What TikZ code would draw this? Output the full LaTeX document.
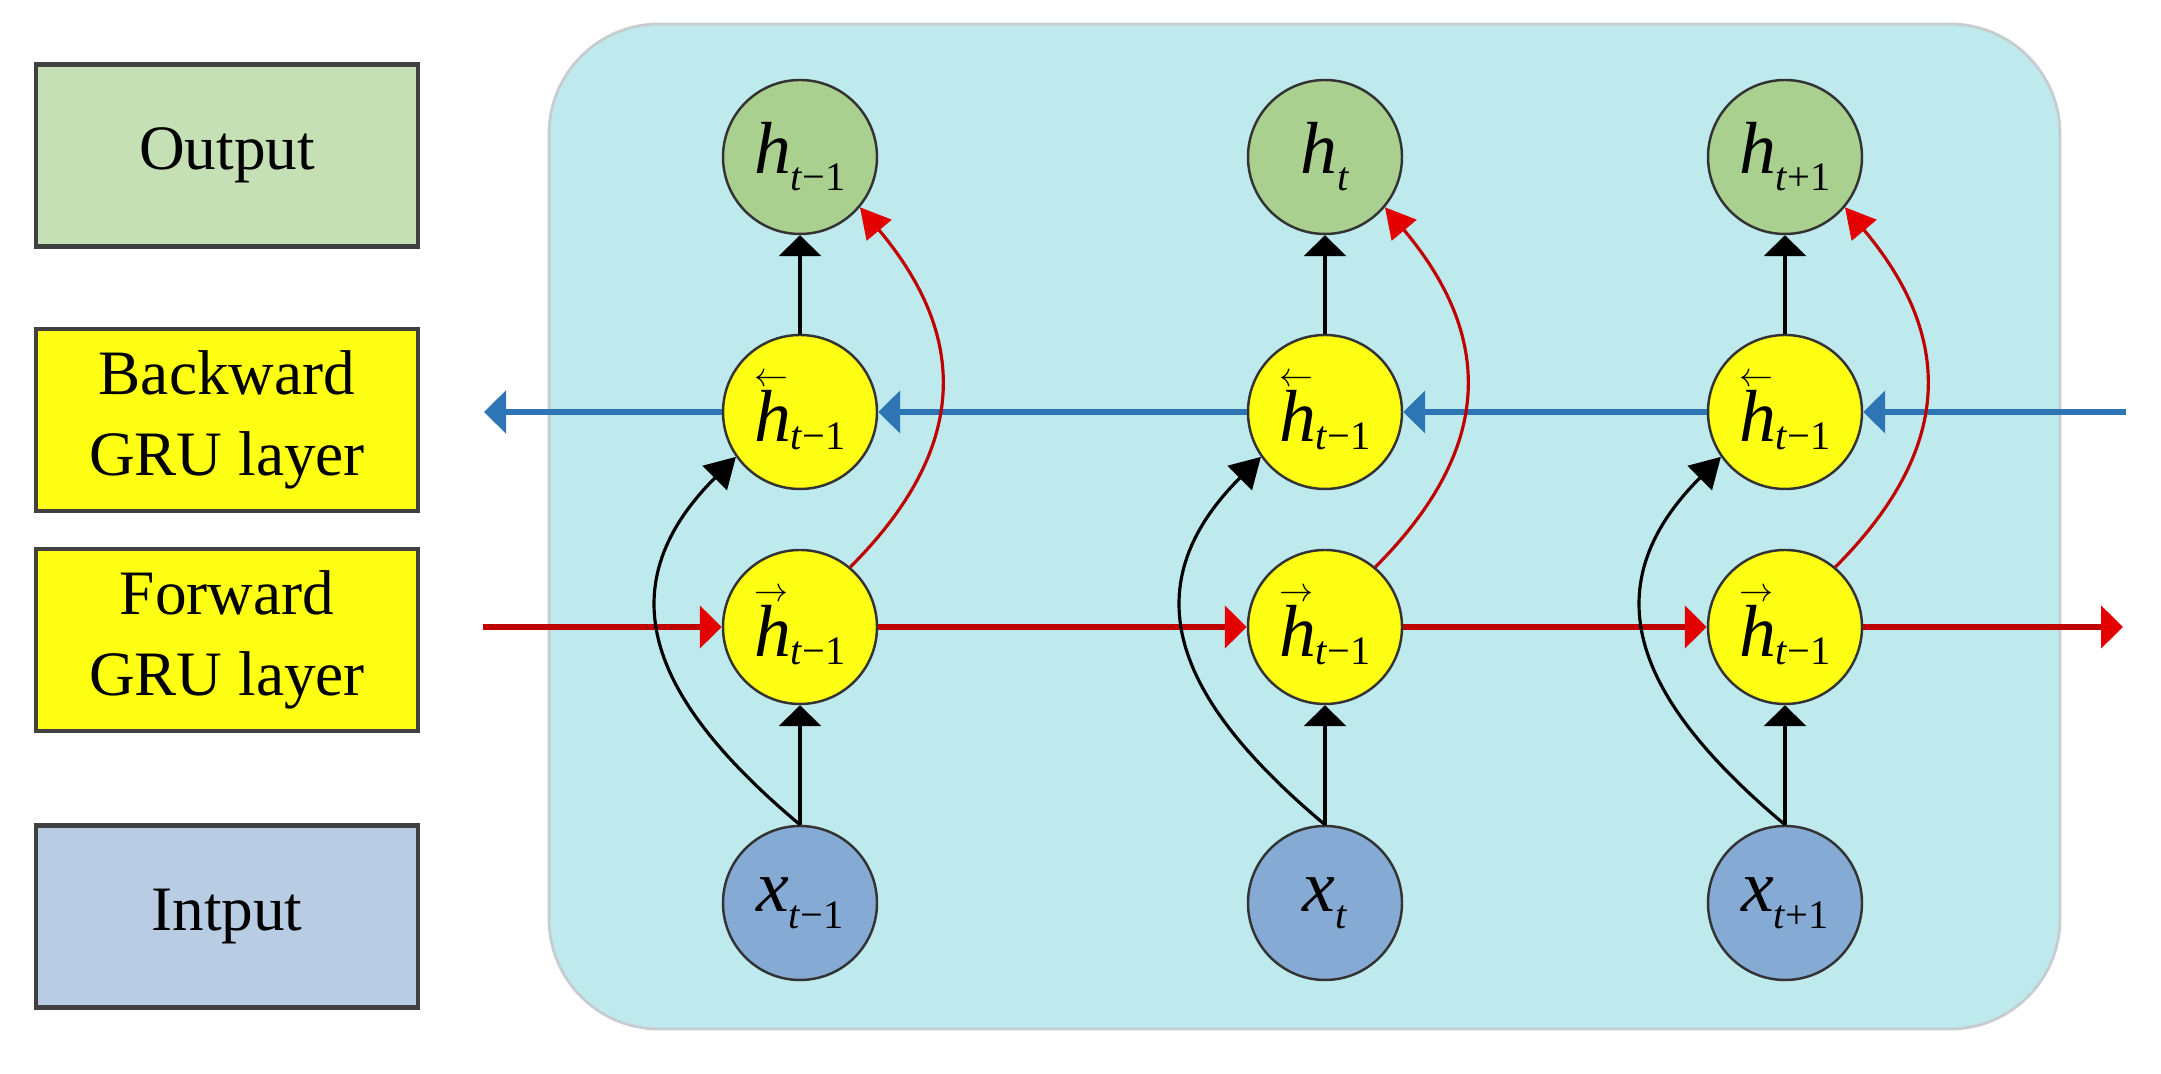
\documentclass[tikz,border=0pt]{standalone}
\usepackage{graphicx}
\usepackage{fontspec}
\setmainfont{Liberation Serif}
\usetikzlibrary{arrows.meta}
\definecolor{bgc}{RGB}{190,233,237}
\definecolor{bgline}{RGB}{198,204,208}
\definecolor{outbox}{RGB}{197,224,180}
\definecolor{outnode}{RGB}{169,208,142}
\definecolor{yel}{RGB}{255,255,20}
\definecolor{inbox}{RGB}{184,204,228}
\definecolor{innode}{RGB}{133,171,212}
\definecolor{redl}{RGB}{192,0,0}
\definecolor{redtip}{RGB}{228,0,0}
\definecolor{bluel}{RGB}{46,117,182}
\newcommand{\subt}[2]{\raisebox{#1}{\fontsize{11.5}{12}\selectfont #2}}
\newcommand{\vecarr}[1]{\makebox[0pt][l]{\raisebox{15.5pt}{\resizebox{0.34cm}{!}{$#1$}}}}
\newcommand{\hbk}{\vecarr{\leftarrow}\textit{h}\subt{-0.25ex}{\textit{t}−1}}
\newcommand{\hfw}{\vecarr{\rightarrow}\textit{h}\subt{-0.25ex}{\textit{t}−1}}
\tikzset{
  legend/.style={draw=black!75, line width=1.3pt, minimum width=3.82cm, minimum height=1.82cm,
    align=center, inner sep=0pt, font=\fontsize{18}{23}\selectfont},
  unit/.style={circle, draw=black!80, line width=0.7pt, minimum size=1.54cm, inner sep=0pt,
    font=\fontsize{21}{21}\selectfont},
  blk/.style={draw=black, line width=1.2pt, -{Triangle[width=0.42cm,length=0.21cm]}},
  blkc/.style={draw=black, line width=0.9pt, -{Triangle[width=0.34cm,length=0.3cm]}},
  redc/.style={draw=redl, line width=0.9pt, -{Triangle[width=0.32cm,length=0.3cm,color=redtip]}},
  redh/.style={draw=redl, line width=1.5pt, -{Triangle[width=0.42cm,length=0.22cm,color=redtip]}},
  blueh/.style={draw=bluel, line width=1.5pt, -{Triangle[width=0.42cm,length=0.22cm]}}
}
\begin{document}
\begin{tikzpicture}
\useasboundingbox (0,0) rectangle (21.61,10.74);
\draw[fill=bgc, draw=bgline, line width=0.8pt, rounded corners=1.1cm] (5.49,0.45) rectangle (20.60,10.50);

\node[legend, fill=outbox] (Lout) at (2.27,9.185) {Output};
\node[legend, fill=yel] (Lback) at (2.27,6.54) {Backward\\GRU layer};
\node[legend, fill=yel] (Lfwd) at (2.27,4.34) {Forward\\GRU layer};
\node[legend, fill=inbox] (Lin) at (2.27,1.575) {Intput};

\node[unit, fill=outnode] (o1) at (8.00,9.17) {\textit{h}\subt{-0.5ex}{\textit{t}−1}};
\node[unit, fill=outnode] (o2) at (13.25,9.17) {\textit{h}\subt{-0.5ex}{\textit{t}}};
\node[unit, fill=outnode] (o3) at (17.85,9.17) {\textit{h}\subt{-0.5ex}{\textit{t}+1}};
\node[unit, fill=innode] (x1) at (8.00,1.71) {\textit{x}\subt{-0.5ex}{\textit{t}−1}};
\node[unit, fill=innode] (x2) at (13.25,1.71) {\textit{x}\subt{-0.5ex}{\textit{t}}};
\node[unit, fill=innode] (x3) at (17.85,1.71) {\textit{x}\subt{-0.5ex}{\textit{t}+1}};
\foreach \i/\x in {1/8.00, 2/13.25, 3/17.85} {
  \node[unit, fill=yel] (b\i) at (\x,6.62) {\hbk};
  \node[unit, fill=yel] (f\i) at (\x,4.47) {\hfw};
}

\coordinate (fL) at (4.83,4.47);
\coordinate (fR) at (21.23,4.47);
\coordinate (bL) at (4.84,6.62);
\coordinate (bR) at (21.26,6.62);

\draw[redh] (fL) -- (f1.west);
\draw[redh] (f1.east) -- (f2.west);
\draw[redh] (f2.east) -- (f3.west);
\draw[redh] (f3.east) -- (fR);
\draw[blueh] (bR) -- (b3.east);
\draw[blueh] (b3.west) -- (b2.east);
\draw[blueh] (b2.west) -- (b1.east);
\draw[blueh] (b1.west) -- (bL);

\foreach \i in {1,2,3} {
  \draw[blk] (x\i.north) -- (f\i.south);
  \draw[blk] (b\i.north) -- (o\i.south);
  \draw[blkc] (x\i.north) to[out=140,in=-135,looseness=1.3] (b\i.215);
  \draw[redc] (f\i.50) to[out=45,in=-50,looseness=1.2] (o\i.-40);
}
\end{tikzpicture}
\end{document}
